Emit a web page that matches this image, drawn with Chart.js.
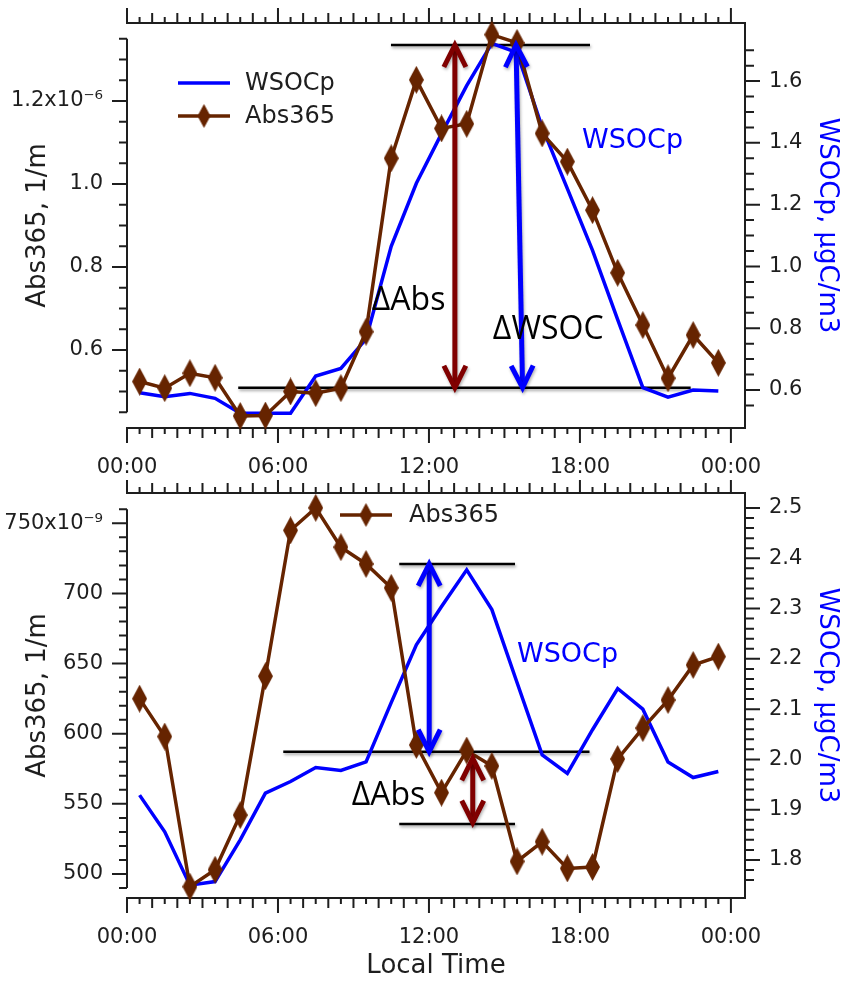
<!DOCTYPE html>
<html>
<head>
<meta charset="utf-8">
<script src="https://cdn.jsdelivr.net/npm/chart.js@4.4.1/dist/chart.umd.min.js"></script>
<style>
    html, body { margin: 0; padding: 0; background: #fff; }
    #wrap { position: relative; width: 848px; height: 982px; }
    canvas { position: absolute; left: 0; }
    #topChart { top: 0; width: 848px; height: 480px; }
    #bottomChart { top: 480px; width: 848px; height: 502px; }
</style>
</head>
<body>
<div id="wrap">
    <canvas id="topChart" width="848" height="480"></canvas>
    <canvas id="bottomChart" width="848" height="502"></canvas>
</div>
<script>
// local time of each sample, hours after midnight
const hours = [0.5, 1.5, 2.5, 3.5, 4.5, 5.5, 6.5, 7.5, 8.5, 9.5, 10.5, 11.5,
               12.5, 13.5, 14.5, 15.5, 16.5, 17.5, 18.5, 19.5, 20.5, 21.5, 22.5, 23.5];
const timeTicks = [0, 6, 12, 18, 24];
const timeTickLabels = ['00:00', '06:00', '12:00', '18:00', '00:00'];

// top panel: Abs365 in 10^-6 1/m, WSOCp in µgC/m3
const absTop = [0.524, 0.508, 0.544, 0.533, 0.441, 0.442, 0.500, 0.496, 0.508, 0.644, 1.062, 1.251,
                1.134, 1.145, 1.360, 1.340, 1.122, 1.054, 0.937, 0.786, 0.660, 0.532, 0.636, 0.569];
const wsocTop = [0.591, 0.578, 0.589, 0.573, 0.525, 0.525, 0.525, 0.645, 0.670, 0.765, 1.065, 1.269,
                 1.430, 1.585, 1.722, 1.692, 1.450, 1.252, 1.052, 0.828, 0.608, 0.577, 0.600, 0.597];
const absTopTicks = [0.6, 0.8, 1.0, 1.2];
const absTopTickLabels = ['0.6', '0.8', '1.0', '1.2x10\u207B\u2076'];
const wsocTopTicks = [0.6, 0.8, 1.0, 1.2, 1.4, 1.6];
const wsocTopTickLabels = ['0.6', '0.8', '1.0', '1.2', '1.4', '1.6'];

// bottom panel: Abs365 in 10^-9 1/m, WSOCp in µgC/m3
const absBottom = [625, 598, 491, 503, 542, 641, 745, 761, 733, 721, 704, 592,
                   558, 588, 577, 509, 523, 504, 505, 582, 604, 624, 649, 655];
const wsocBottom = [1.929, 1.856, 1.750, 1.757, 1.840, 1.933, 1.956, 1.984, 1.978, 1.995, 2.113, 2.228,
                    2.304, 2.377, 2.298, 2.153, 2.009, 1.972, 2.059, 2.141, 2.100, 1.995, 1.964, 1.976];
const absBottomTicks = [500, 550, 600, 650, 700, 750];
const absBottomTickLabels = ['500', '550', '600', '650', '700', '750x10\u207B\u2079'];
const wsocBottomTicks = [1.8, 1.9, 2.0, 2.1, 2.2, 2.3, 2.4, 2.5];
const wsocBottomTickLabels = ['1.8', '1.9', '2.0', '2.1', '2.2', '2.3', '2.4', '2.5'];

const BROWN = '#662400';
const BLUE = '#0000ff';
const DARKRED = '#800000';
const INK = '#1e1e1e';
const FONT = 'DejaVu Sans';

Chart.defaults.font.family = FONT;
Chart.defaults.color = INK;

function range(from, to, step) {
    const out = [];
    const n = Math.round((to - from) / step);
    for (let i = 0; i <= n; i++) out.push(+(from + i * step).toFixed(4));
    return out;
}

function diamond(w, h, color) {
    const c = document.createElement('canvas');
    c.width = w;
    c.height = h;
    const g = c.getContext('2d');
    g.fillStyle = color;
    g.beginPath();
    g.moveTo(w / 2, 0);
    g.lineTo(w, h / 2);
    g.lineTo(w / 2, h);
    g.lineTo(0, h / 2);
    g.closePath();
    g.fill();
    return c;
}

const pointDiamond = diamond(15, 28, BROWN);
const legendDiamond = diamond(13, 24, BROWN);

// scale boxes get fixed sizes so the plot frame lands where the original one is
function fixBox(size) {
    return s => {
        if (s.isHorizontal()) s.height = size; else s.width = size;
        s.paddingTop = 0;
        s.paddingBottom = 0;
        s.paddingLeft = 0;
        s.paddingRight = 0;
    };
}

// frame, left axis, tick marks (major / minor) and reference lines
const axisMarks = {
    id: 'axisMarks',
    beforeDatasetsDraw(chart, args, o) {
        const {ctx, chartArea: a} = chart;
        const {x, y, y1} = chart.scales;
        ctx.save();
        ctx.strokeStyle = INK;
        ctx.lineWidth = 2;
        ctx.beginPath();
        ctx.moveTo(a.left - 1, a.top);
        ctx.lineTo(a.right, a.top);
        ctx.lineTo(a.right, a.bottom);
        ctx.lineTo(a.left - 1, a.bottom);
        const yl = o.leftMinor;
        ctx.moveTo(a.left, y.getPixelForValue(yl[yl.length - 1]));
        ctx.lineTo(a.left, y.getPixelForValue(yl[0]));
        ctx.stroke();

        ctx.beginPath();
        for (let i = 0; i <= 48; i++) {
            const h = i / 2;
            const len = i % 12 === 0 ? 15 : (i % 2 === 0 ? 10 : 6);
            const px = x.getPixelForValue(h);
            ctx.moveTo(px, a.bottom);
            ctx.lineTo(px, a.bottom + len);
            ctx.moveTo(px, a.top);
            ctx.lineTo(px, a.top - len);
        }
        const isMajor = (v, list) => list.some(t => Math.abs(t - v) < 1e-6);
        o.leftMinor.forEach(v => {
            const py = y.getPixelForValue(v);
            const len = isMajor(v, o.leftMajor) ? 15 : 8;
            ctx.moveTo(a.left - len, py);
            ctx.lineTo(a.left, py);
        });
        o.rightMinor.forEach(v => {
            const py = y1.getPixelForValue(v);
            const len = isMajor(v, o.rightMajor) ? 15 : 9;
            ctx.moveTo(a.right, py);
            ctx.lineTo(a.right + len, py);
        });
        ctx.stroke();

        ctx.strokeStyle = '#000';
        ctx.lineWidth = 2.5;
        ctx.shadowColor = 'rgba(0,0,0,0.35)';
        ctx.shadowBlur = 3;
        ctx.shadowOffsetX = 1;
        ctx.shadowOffsetY = 2;
        (o.lines || []).forEach(l => {
            const py = y.getPixelForValue(l.y);
            ctx.beginPath();
            ctx.moveTo(x.getPixelForValue(l.x1), py);
            ctx.lineTo(x.getPixelForValue(l.x2), py);
            ctx.stroke();
        });
        ctx.restore();
    }
};

function arrowHead(ctx, tx, ty, ang) {
    const L = 24.6, spread = 0.4636;
    ctx.beginPath();
    ctx.moveTo(tx - L * Math.cos(ang - spread), ty - L * Math.sin(ang - spread));
    ctx.lineTo(tx, ty);
    ctx.lineTo(tx - L * Math.cos(ang + spread), ty - L * Math.sin(ang + spread));
    ctx.stroke();
}

// arrows, text annotations and the legend
const overlay = {
    id: 'overlay',
    afterDatasetsDraw(chart, args, o) {
        const {ctx} = chart;
        const {x, y, y1} = chart.scales;
        ctx.save();
        ctx.lineJoin = 'miter';
        ctx.lineWidth = 5;
        ctx.shadowColor = 'rgba(0,0,0,0.3)';
        ctx.shadowBlur = 3;
        ctx.shadowOffsetX = 1;
        ctx.shadowOffsetY = 2;
        (o.arrows || []).forEach(ar => {
            const x1 = x.getPixelForValue(ar.x1), y1p = y.getPixelForValue(ar.y1);
            const x2 = x.getPixelForValue(ar.x2), y2p = y.getPixelForValue(ar.y2);
            const ang = Math.atan2(y2p - y1p, x2 - x1);
            ctx.strokeStyle = ar.color;
            ctx.beginPath();
            ctx.moveTo(x1 + 3 * Math.cos(ang), y1p + 3 * Math.sin(ang));
            ctx.lineTo(x2 - 3 * Math.cos(ang), y2p - 3 * Math.sin(ang));
            ctx.stroke();
            arrowHead(ctx, x1, y1p, ang + Math.PI);
            arrowHead(ctx, x2, y2p, ang);
        });
        ctx.shadowColor = 'transparent';
        ctx.textBaseline = 'alphabetic';
        ctx.textAlign = 'left';
        (o.texts || []).forEach(t => {
            const sc = t.axis === 'y1' ? y1 : y;
            ctx.font = t.font;
            ctx.fillStyle = t.color;
            ctx.fillText(t.text, x.getPixelForValue(t.x), sc.getPixelForValue(t.y));
        });

        ctx.font = '24px "' + FONT + '"';
        (o.legend || []).forEach(it => {
            ctx.strokeStyle = it.color;
            ctx.lineWidth = 3.5;
            ctx.beginPath();
            ctx.moveTo(it.x, it.y);
            ctx.lineTo(it.x + 52, it.y);
            ctx.stroke();
            if (it.marker) {
                ctx.drawImage(legendDiamond, it.x + 26 - legendDiamond.width / 2, it.y - legendDiamond.height / 2);
            }
            ctx.fillStyle = INK;
            ctx.textBaseline = 'middle';
            ctx.fillText(it.label, it.textX, it.y + 1);
        });
        ctx.restore();
    }
};

function makePanel(canvas, p) {
    const H = canvas.height;
    return new Chart(canvas, {
        type: 'line',
        data: {
            datasets: [
                {
                    label: 'Abs365',
                    data: hours.map((h, i) => ({x: h, y: p.abs[i]})),
                    yAxisID: 'y',
                    borderColor: BROWN,
                    backgroundColor: BROWN,
                    borderWidth: 3.5,
                    pointStyle: pointDiamond,
                    pointRadius: 8,
                    tension: 0,
                    clip: false
                },
                {
                    label: 'WSOCp',
                    data: hours.map((h, i) => ({x: h, y: p.wsoc[i]})),
                    yAxisID: 'y1',
                    borderColor: BLUE,
                    borderWidth: 3.5,
                    pointRadius: 0,
                    tension: 0,
                    clip: false
                }
            ]
        },
        options: {
            responsive: false,
            animation: false,
            devicePixelRatio: 1,
            events: [],
            layout: {padding: {top: p.areaTop, left: 0, right: 0, bottom: 0}},
            plugins: {
                legend: {display: false},
                tooltip: {enabled: false},
                axisMarks: {
                    leftMajor: p.absTicks,
                    leftMinor: p.absMinor,
                    rightMajor: p.wsocTicks,
                    rightMinor: p.wsocMinor,
                    lines: p.lines
                },
                overlay: {arrows: p.arrows, texts: p.texts, legend: p.legend}
            },
            scales: {
                x: {
                    type: 'linear',
                    min: 0,
                    max: 24.56,
                    afterFit: fixBox(H - p.areaBottom),
                    afterBuildTicks: s => { s.ticks = timeTicks.map(v => ({value: v})); },
                    ticks: {
                        callback: (v, i) => timeTickLabels[i],
                        padding: 27,
                        maxRotation: 0,
                        autoSkip: false,
                        font: {size: 21},
                        color: INK
                    },
                    grid: {display: false, drawTicks: false},
                    border: {display: false},
                    title: {
                        display: !!p.xTitle,
                        text: p.xTitle || '',
                        font: {size: 26},
                        color: INK,
                        padding: {top: 0, bottom: 0}
                    }
                },
                y: {
                    type: 'linear',
                    position: 'left',
                    min: p.absRange[0],
                    max: p.absRange[1],
                    afterFit: fixBox(127),
                    afterBuildTicks: s => { s.ticks = p.absTicks.map(v => ({value: v})); },
                    ticks: {
                        callback: (v, i) => p.absLabels[i],
                        padding: 24,
                        font: {size: 21},
                        color: INK
                    },
                    grid: {display: false, drawTicks: false},
                    border: {display: false},
                    title: {
                        display: true,
                        text: 'Abs365, 1/m',
                        font: {size: 26},
                        color: INK,
                        padding: {top: 23, bottom: 0}
                    }
                },
                y1: {
                    type: 'linear',
                    position: 'right',
                    min: p.wsocRange[0],
                    max: p.wsocRange[1],
                    afterFit: fixBox(103),
                    afterBuildTicks: s => { s.ticks = p.wsocTicks.map(v => ({value: v})); },
                    ticks: {
                        callback: (v, i) => p.wsocLabels[i],
                        padding: 24,
                        font: {size: 21},
                        color: INK
                    },
                    grid: {display: false, drawTicks: false},
                    border: {display: false},
                    title: {
                        display: true,
                        text: 'WSOCp, \u00B5gC/m3',
                        font: {size: 26},
                        color: BLUE,
                        padding: {top: 6, bottom: 0}
                    }
                }
            }
        },
        plugins: [axisMarks, overlay]
    });
}

const annoFont = '32px "Open Sans"';
const labelFont = '27px "' + FONT + '"';

makePanel(document.getElementById('topChart'), {
    abs: absTop,
    wsoc: wsocTop,
    areaTop: 23,
    areaBottom: 428,
    absRange: [0.412, 1.388],
    wsocRange: [0.477, 1.788],
    absTicks: absTopTicks,
    absLabels: absTopTickLabels,
    absMinor: range(0.45, 1.35, 0.05),
    wsocTicks: wsocTopTicks,
    wsocLabels: wsocTopTickLabels,
    wsocMinor: range(0.55, 1.70, 0.05),
    lines: [
        {x1: 10.49, x2: 18.40, y: 1.335},
        {x1: 4.42, x2: 22.40, y: 0.509}
    ],
    arrows: [
        {x1: 13.03, y1: 1.335, x2: 13.03, y2: 0.509, color: DARKRED},
        {x1: 15.46, y1: 1.335, x2: 15.72, y2: 0.509, color: BLUE}
    ],
    texts: [
        {x: 9.73, y: 0.696, text: '\u0394Abs', font: annoFont, color: '#000'},
        {x: 14.54, y: 0.627, text: '\u0394WSOC', font: annoFont, color: '#000'},
        {x: 18.08, y: 1.383, axis: 'y1', text: 'WSOCp', font: labelFont, color: BLUE}
    ],
    legend: [
        {x: 178, y: 83, textX: 245, label: 'WSOCp', color: BLUE, marker: false},
        {x: 178, y: 116, textX: 245, label: 'Abs365', color: BROWN, marker: true}
    ]
});

makePanel(document.getElementById('bottomChart'), {
    abs: absBottom,
    wsoc: wsocBottom,
    areaTop: 13,
    areaBottom: 418,
    xTitle: 'Local Time',
    absRange: [482.9, 771.6],
    wsocRange: [1.7244, 2.5298],
    absTicks: absBottomTicks,
    absLabels: absBottomTickLabels,
    absMinor: range(490, 760, 10),
    wsocTicks: wsocBottomTicks,
    wsocLabels: wsocBottomTickLabels,
    wsocMinor: range(1.76, 2.50, 0.02),
    lines: [
        {x1: 10.82, x2: 15.42, y: 721.0},
        {x1: 6.21, x2: 18.38, y: 587.2},
        {x1: 10.82, x2: 15.42, y: 535.7}
    ],
    arrows: [
        {x1: 12.01, y1: 721.0, x2: 12.01, y2: 587.2, color: BLUE},
        {x1: 13.74, y1: 582.5, x2: 13.74, y2: 536.6, color: DARKRED}
    ],
    texts: [
        {x: 8.93, y: 549.2, text: '\u0394Abs', font: annoFont, color: '#000'},
        {x: 15.50, y: 2.194, axis: 'y1', text: 'WSOCp', font: labelFont, color: BLUE}
    ],
    legend: [
        {x: 340, y: 35, textX: 409, label: 'Abs365', color: BROWN, marker: true}
    ]
});
</script>
</body>
</html>
